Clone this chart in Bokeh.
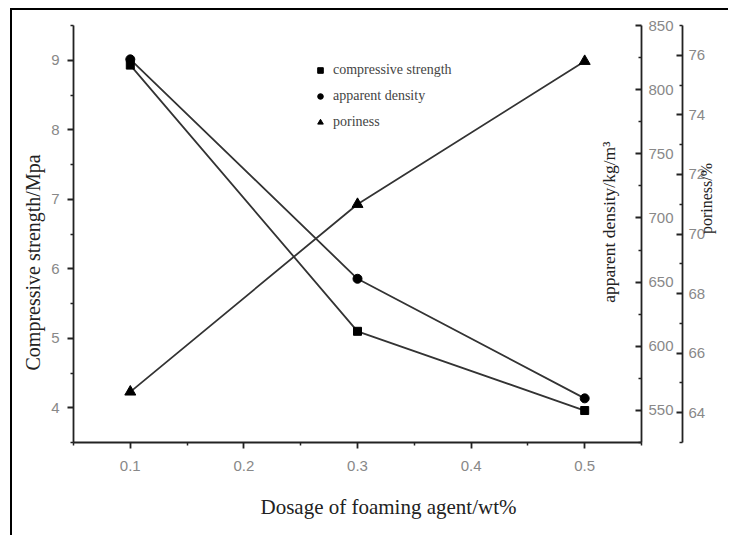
import math
from bokeh.plotting import figure
from bokeh.models import (LinearAxis, Range1d, FixedTicker, Legend, LegendItem,
                          Label, Title)
from bokeh.embed import file_html
from bokeh.resources import INLINE

# ---- data ----
dosage = [0.1, 0.3, 0.5]
compressive_strength = [8.93, 5.1, 3.96]
apparent_density = [823.6, 652.6, 559.4]
poriness = [64.7, 71.0, 75.8]

x_ticks = [0.1, 0.2, 0.3, 0.4, 0.5]
x_minor = [0.05, 0.15, 0.25, 0.35, 0.45, 0.55]
cs_ticks = [4, 5, 6, 7, 8, 9]
cs_minor = [3.5, 4.5, 5.5, 6.5, 7.5, 8.5, 9.5]
den_ticks = [550, 600, 650, 700, 750, 800, 850]
den_minor = [525, 575, 625, 675, 725, 775, 825]
por_ticks = [64, 66, 68, 70, 72, 74, 76]
por_minor = [63, 65, 67, 69, 71, 73, 75, 77]

x_title = "Dosage of foaming agent/wt%"
cs_title = "Compressive strength/Mpa"
den_title = "apparent density/kg/m\u00b3"
por_title = "poriness/%"

SERIF = "Liberation Serif"
SANS = "Liberation Sans"
AXC = "#222222"
LBC = "#888888"

p = figure(width=718, height=527, x_range=Range1d(0.05, 0.55),
           y_range=Range1d(3.5, 9.5), output_backend="svg",
           toolbar_location=None, min_border_left=61, min_border_top=15,
           min_border_right=89, min_border_bottom=95)
p.margin = (8, 0, 0, 10)
p.styles = {"border-left": "2px solid black", "border-top": "2px solid black"}
p.extra_y_ranges = {"dens": Range1d(525, 850), "por": Range1d(63, 77)}
p.xgrid.visible = False
p.ygrid.visible = False
p.outline_line_color = None
p.background_fill_color = "white"
p.border_fill_color = "white"


def style_axis(ax, inward):
    ax.axis_line_color = AXC
    ax.axis_line_width = 1.8
    ax.major_tick_line_color = AXC
    ax.minor_tick_line_color = AXC
    ax.major_tick_line_width = 1.8
    ax.minor_tick_line_width = 1.5
    if inward:
        ax.major_tick_in, ax.major_tick_out = 6, 0
        ax.minor_tick_in, ax.minor_tick_out = 3, 0
    else:
        ax.major_tick_in, ax.major_tick_out = 0, 6
        ax.minor_tick_in, ax.minor_tick_out = 0, 3
    ax.major_label_text_font = SANS
    ax.major_label_text_font_size = "15px"
    ax.major_label_text_color = LBC


xa = p.xaxis[0]
xa.ticker = FixedTicker(ticks=x_ticks, minor_ticks=x_minor)
style_axis(xa, False)
xa.major_label_standoff = 12

ya = p.yaxis[0]
ya.ticker = FixedTicker(ticks=cs_ticks, minor_ticks=cs_minor)
style_axis(ya, False)
ya.major_label_standoff = 8

ax_d = LinearAxis(y_range_name="dens",
                  ticker=FixedTicker(ticks=den_ticks, minor_ticks=den_minor))
style_axis(ax_d, True)
ax_d.major_label_standoff = 7
ax_d.axis_label = "|"
ax_d.axis_label_text_alpha = 0
ax_d.axis_label_text_font_size = "3px"
ax_d.axis_label_standoff = 0
p.add_layout(ax_d, "right")

ax_p = LinearAxis(y_range_name="por",
                  ticker=FixedTicker(ticks=por_ticks, minor_ticks=por_minor))
style_axis(ax_p, True)
ax_p.major_label_standoff = 6
ax_p.axis_label = por_title
ax_p.axis_label_orientation = math.pi / 2
ax_p.axis_label_text_font = SERIF
ax_p.axis_label_text_font_style = "normal"
ax_p.axis_label_text_font_size = "16px"
ax_p.axis_label_text_color = "#222222"
ax_p.axis_label_standoff = -2
p.add_layout(ax_p, "right")

LC = "#333333"
LW = 1.8
p.line(dosage, compressive_strength, line_color=LC, line_width=LW)
p.line(dosage, apparent_density, line_color=LC, line_width=LW, y_range_name="dens")
p.line(dosage, poriness, line_color=LC, line_width=LW, y_range_name="por")
r1 = p.scatter(dosage, compressive_strength, marker="square", size=8,
               fill_color="black", line_color="black")
r2 = p.scatter(dosage, apparent_density, marker="circle", size=9,
               fill_color="black", line_color="black", y_range_name="dens")
r3 = p.scatter(dosage, poriness, marker="triangle", size=11,
               fill_color="black", line_color="black", y_range_name="por")

legend = Legend(items=[LegendItem(label="compressive strength", renderers=[r1]),
                       LegendItem(label="apparent density", renderers=[r2]),
                       LegendItem(label="poriness", renderers=[r3])],
                location=(240, 310), border_line_color=None,
                background_fill_alpha=0, padding=0, margin=0, spacing=6,
                label_height=20, glyph_height=20, glyph_width=14,
                label_standoff=6, label_text_font=SERIF,
                label_text_font_size="14px", label_text_color="#444444")
p.add_layout(legend)

p.add_layout(Label(x=0.521, y=6.67, text=den_title, angle=math.pi / 2,
                   text_align="center", text_baseline="middle",
                   text_font=SERIF, text_font_size="17.5px",
                   text_color="#222222"))

p.add_layout(Title(text=x_title, align="left", offset=187, standoff=38,
                   text_font=SERIF, text_font_size="21px",
                   text_font_style="normal", text_color="#222222"), "below")
p.add_layout(Title(text=cs_title, align="left", offset=72, standoff=10,
                   text_font=SERIF, text_font_size="20px",
                   text_font_style="normal", text_color="#222222"), "left")

open("out.html", "w").write(file_html(p, INLINE))
